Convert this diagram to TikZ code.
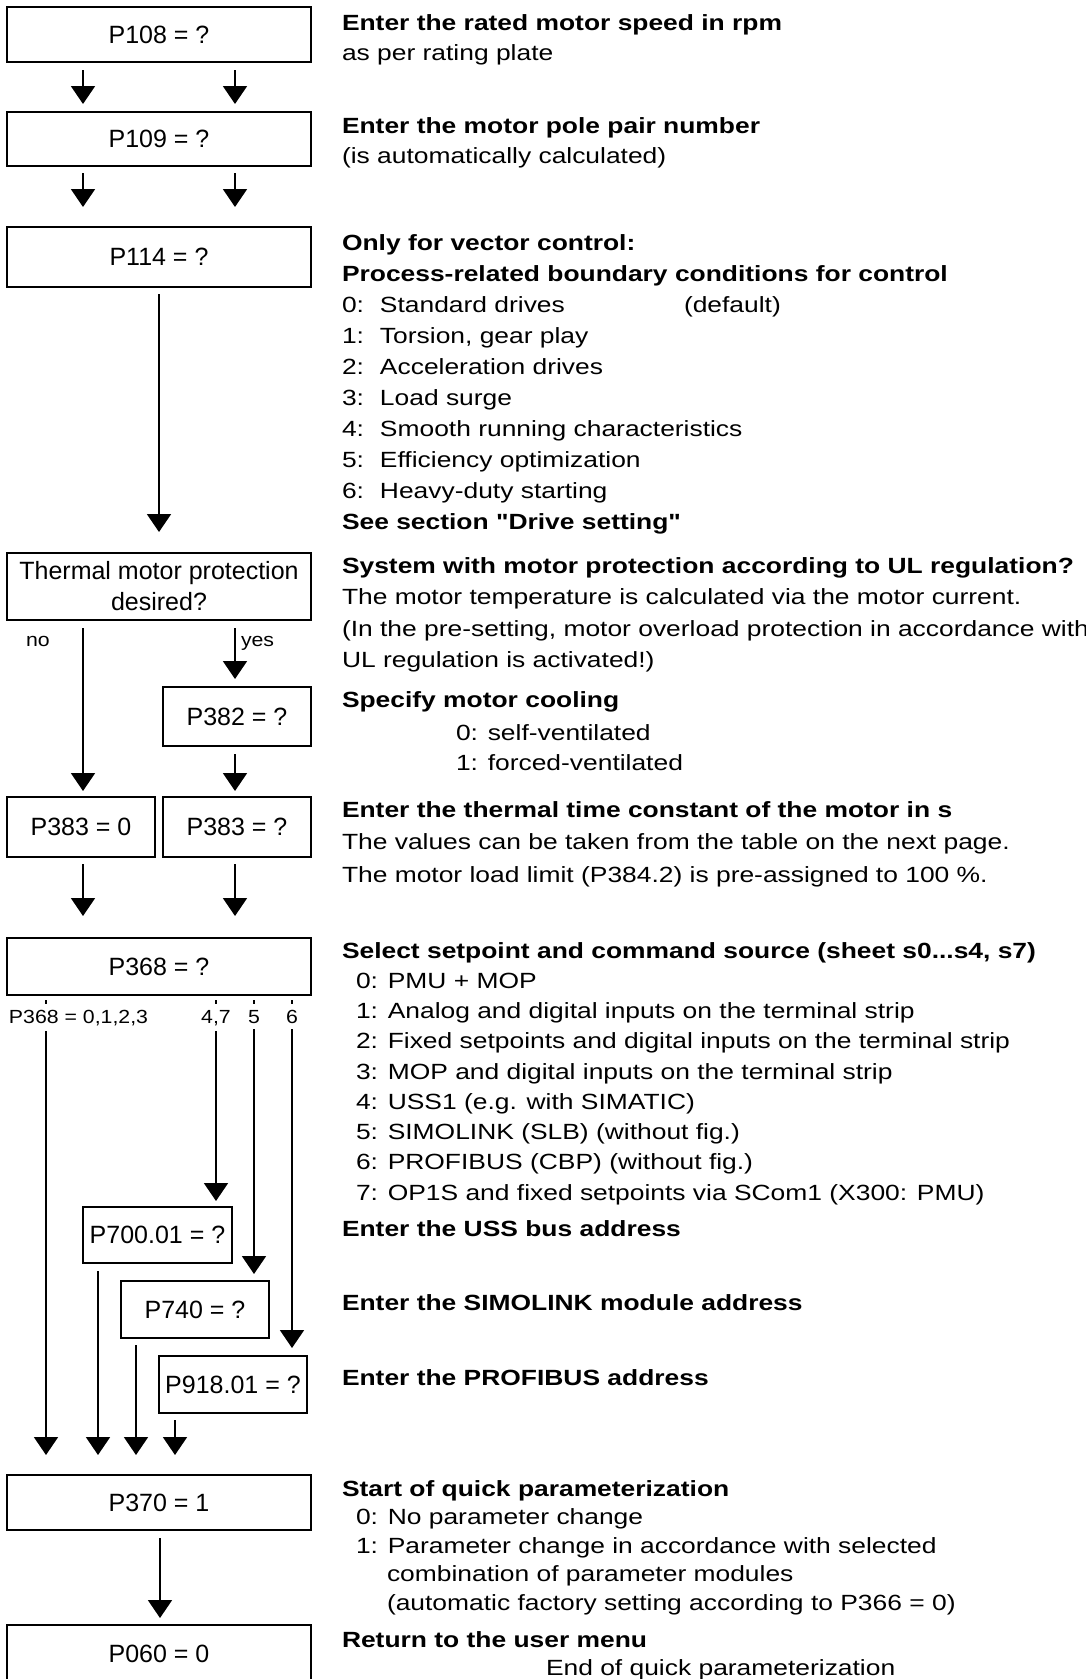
\documentclass[tikz,border=0pt]{standalone}
\usepackage{fontspec}
\setmainfont{Liberation Sans}
\newfontfamily\descfont[FakeStretch=1.2]{Liberation Sans}
\newfontfamily\lblfont[FakeStretch=1.12]{Liberation Sans}
\usetikzlibrary{arrows.meta}

\begin{document}
\begin{tikzpicture}[x=1pt,y=-1pt,line width=2pt,>={Triangle[length=18pt,width=24pt]},
      main box/.style={draw,inner sep=0pt,minimum width=304pt,minimum height=56pt,
        align=center,font=\fontsize{25pt}{31pt}\selectfont},
      small box/.style={main box,minimum width=148pt},
      desc/.style={anchor=base west,align=left,inner sep=0pt,font=\descfont\fontsize{22pt}{#1}\selectfont},
      desc/.default=30pt,
      lbl/.style={inner sep=0pt,font=\lblfont\fontsize{19pt}{22pt}\selectfont},
      case/.style={lbl,anchor=base,fill=white,inner xsep=2pt,inner ysep=6pt}]
  \useasboundingbox (0,0) rectangle (1086,1679);

  % parameter boxes
  \node[main box,minimum height=55pt] (p108) at (159,34.5) {P108 = ?};
  \node[main box,minimum height=54pt] (p109) at (159,139) {P109 = ?};
  \node[main box,minimum height=60pt] (p114) at (159,257) {P114 = ?};
  \node[main box,minimum height=67pt] (thermal) at (159,586.5) {Thermal motor protection\\desired?};
  \node[small box,minimum height=59pt] (p382) at (237,716.5) {P382 = ?};
  \node[small box,minimum height=60pt] (p383no) at (81,827) {P383 = 0};
  \node[small box,minimum height=60pt] (p383yes) at (237,827) {P383 = ?};
  \node[main box,minimum height=57pt] (p368) at (159,966.5) {P368 = ?};
  \node[small box,minimum width=149pt] (p700) at (157.5,1235) {P700.01 = ?};
  \node[small box,minimum height=57pt] (p740) at (195,1309.5) {P740 = ?};
  \node[small box,minimum height=57pt] (p918) at (233,1384.5) {P918.01 = ?};
  \node[main box,minimum height=55pt] (p370) at (159,1502.5) {P370 = 1};
  \node[main box,minimum height=57pt] (p060) at (159,1653.5) {P060 = 0};

  \path[->,shorten <=6pt,shorten >=6pt]
    ([xshift=-76pt]p108.south) edge[shorten <=7pt,shorten >=7pt] ([xshift=-76pt]p109.north)
    ([xshift=76pt]p108.south) edge[shorten <=7pt,shorten >=7pt] ([xshift=76pt]p109.north)
    ([xshift=-76pt]p109.south) edge[shorten >=19pt] ([xshift=-76pt]p114.north)
    ([xshift=76pt]p109.south) edge[shorten >=19pt] ([xshift=76pt]p114.north)
    (p114.south) edge[shorten >=20pt] (thermal.north)
    ([xshift=-76pt]thermal.south) edge[shorten <=7pt,shorten >=5pt] ([xshift=2pt]p383no.north)
    ([xshift=76pt]thermal.south) edge[shorten <=7pt,shorten >=7pt] ([xshift=-2pt]p382.north)
    ([xshift=-2pt]p382.south) edge[shorten <=7pt,shorten >=5pt] ([xshift=-2pt]p383yes.north)
    ([xshift=2pt]p383no.south) edge[shorten >=21pt] ([xshift=-76pt]p368.north)
    ([xshift=-2pt]p383yes.south) edge[shorten >=21pt] ([xshift=76pt]p368.north)
    ([xshift=57pt]p368.south) edge[shorten <=4pt,shorten >=5pt] ([xshift=58.5pt]p700.north)
    ([xshift=95pt]p368.south) edge[shorten <=4pt] ([xshift=59pt]p740.north)
    ([xshift=133pt]p368.south) edge[shorten <=4pt,shorten >=7pt] ([xshift=59pt]p918.north)
    ([xshift=-113pt]p368.south) edge[shorten <=4pt,shorten >=19pt] ([xshift=-113pt]p370.north)
    ([xshift=-59.5pt]p700.south) edge[shorten <=7pt,shorten >=19pt] ([xshift=-61pt]p370.north)
    ([xshift=-59pt]p740.south) edge[shorten >=19pt] ([xshift=-23pt]p370.north)
    ([xshift=-58pt]p918.south) edge[shorten >=19pt] ([xshift=16pt]p370.north)
    ([xshift=1pt]p370.south) edge[shorten <=7pt] ([xshift=1pt]p060.north);

  % branch labels
  \node[lbl,anchor=base] (no) at (38,646) {no};
  \node[lbl,anchor=base west] (yes) at (240,646) {yes};
  \node[case,anchor=base west] (lbl0123) at (6,1023) {P368 = 0,1,2,3};
  \node[case] (lbl47) at (216,1023) {4,7};
  \node[case] (lbl5) at (254,1023) {5};
  \node[case] (lbl6) at (292,1023) {6};

  % descriptions (placed at the baseline of their last line)
  \node[desc] (tx108) at (341,60) {\textbf{Enter the rated motor speed in rpm}\\as per rating plate};
  \node[desc] (tx109) at (341,163) {\textbf{Enter the motor pole pair number}\\(is automatically calculated)};
  \node[desc=31pt] (tx114) at (341,529) {\textbf{Only for vector control:}\\
    \textbf{Process-related boundary conditions for control}\\
    \makebox[342pt][l]{\makebox[38pt][l]{0:}Standard drives}(default)\\
    \makebox[38pt][l]{1:}Torsion, gear play\\
    \makebox[38pt][l]{2:}Acceleration drives\\
    \makebox[38pt][l]{3:}Load surge\\
    \makebox[38pt][l]{4:}Smooth running characteristics\\
    \makebox[38pt][l]{5:}Efficiency optimization\\
    \makebox[38pt][l]{6:}Heavy-duty starting\\
    \textbf{See section "Drive setting"}};
  \node[desc=31.5pt] (txul) at (341,667.5) {\textbf{System with motor protection according to UL regulation?}\\
    The motor temperature is calculated via the motor current.\\
    (In the pre-setting, motor overload protection in accordance with\\
    UL regulation is activated!)};
  \node[desc] (tx382) at (341,770) {\textbf{Specify motor cooling}\\[3pt]
    \hspace*{114pt}0: self-ventilated\\
    \hspace*{114pt}1: forced-ventilated};
  \node[desc=32.5pt] (tx383) at (341,882) {\textbf{Enter the thermal time constant of the motor in s}\\
    The values can be taken from the table on the next page.\\
    The motor load limit (P384.2) is pre-assigned to 100 \%.};
  \node[desc=30.25pt] (tx368) at (341,1200) {\textbf{Select setpoint and command source (sheet s0...s4, s7)}\\
    \hspace*{14pt}0: PMU + MOP\\
    \hspace*{14pt}1: Analog and digital inputs on the terminal strip\\
    \hspace*{14pt}2: Fixed setpoints and digital inputs on the terminal strip\\
    \hspace*{14pt}3: MOP and digital inputs on the terminal strip\\
    \hspace*{14pt}4: USS1 (e.g. with SIMATIC)\\
    \hspace*{14pt}5: SIMOLINK (SLB) (without fig.)\\
    \hspace*{14pt}6: PROFIBUS (CBP) (without fig.)\\
    \hspace*{14pt}7: OP1S and fixed setpoints via SCom1 (X300: PMU)};
  \node[desc] (tx700) at (341,1236) {\textbf{Enter the USS bus address}};
  \node[desc] (tx740) at (341,1310) {\textbf{Enter the SIMOLINK module address}};
  \node[desc] (tx918) at (341,1385) {\textbf{Enter the PROFIBUS address}};
  \node[desc=28.5pt] (tx370) at (341,1610) {\textbf{Start of quick parameterization}\\
    \hspace*{14pt}0: No parameter change\\
    \hspace*{14pt}1: Parameter change in accordance with selected\\
    \hspace*{45pt}combination of parameter modules\\
    \hspace*{45pt}(automatic factory setting according to P366 = 0)};
  \node[desc=28pt] (tx060) at (341,1675) {\textbf{Return to the user menu}\\
    \hspace*{204pt}End of quick parameterization};
\end{tikzpicture}
\end{document}
